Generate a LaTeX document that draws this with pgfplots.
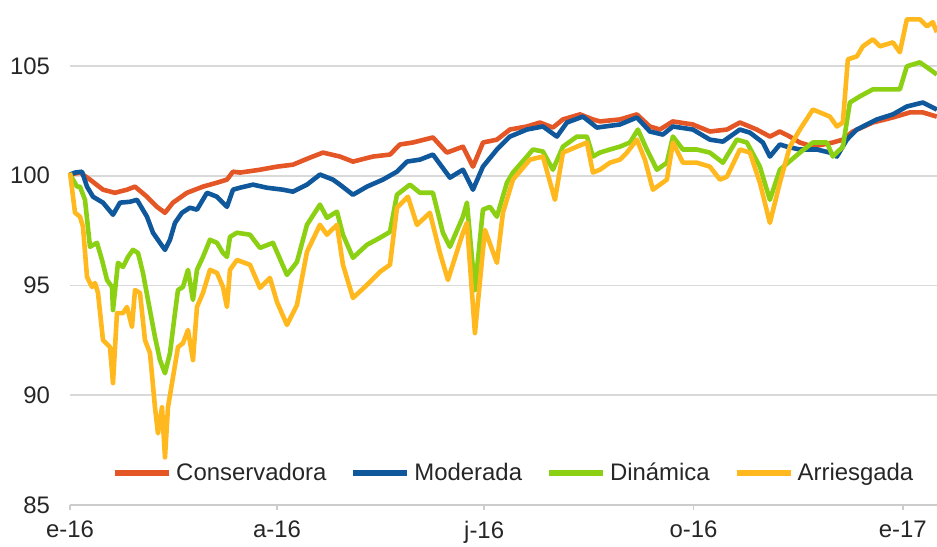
\documentclass[border=0pt]{standalone}
\usepackage{fontspec}
\setmainfont{Liberation Sans}
\usepackage{pgfplots}
\pgfplotsset{compat=1.18}
\definecolor{conserv}{RGB}{228,86,38}
\definecolor{moder}{RGB}{16,88,156}
\definecolor{dinam}{RGB}{140,208,20}
\definecolor{arriesg}{RGB}{255,185,30}

% x = days since 1 Jan 2016
\pgfplotstableread{
d v
0 100.05
4.39 100.14
8.79 99.82
14.50 99.36
19.77 99.22
25.04 99.36
28.56 99.50
33.83 99.04
38.22 98.58
41.74 98.31
45.26 98.77
51.41 99.22
58.44 99.50
64.59 99.68
68.98 99.82
71.62 100.18
74.69 100.14
83.48 100.27
90.95 100.41
97.98 100.50
105.45 100.82
111.16 101.05
118.63 100.87
124.34 100.64
133.13 100.87
140.61 100.96
145.0 101.42
150.7 101.51
159.5 101.74
165.6 101.05
172.7 101.32
177.1 100.41
181.5 101.51
187.6 101.64
193.3 102.10
200.8 102.24
206.5 102.42
212.2 102.19
216.6 102.56
224.1 102.79
229.8 102.56
232.9 102.47
241.7 102.56
249.1 102.79
254.8 102.24
259.2 102.10
264.9 102.47
273.7 102.33
281.2 102.01
288.7 102.10
294.4 102.42
301.8 102.10
307.6 101.78
311.9 102.01
316.3 101.78
320.7 101.51
326.4 101.32
335.2 101.51
339.6 101.64
344.0 102.01
352.8 102.42
361.6 102.65
369.1 102.88
374.8 102.88
380.9 102.69
}\conservadora

\pgfplotstableread{
d v
0 100.05
2.20 100.14
5.27 100.18
7.47 99.50
10.11 99.04
14.50 98.77
18.89 98.22
21.97 98.77
26.36 98.81
29.44 98.90
33.83 98.13
36.47 97.40
39.54 96.94
41.74 96.62
43.94 97.08
46.13 97.85
49.21 98.31
52.72 98.54
55.80 98.45
60.19 99.22
64.59 99.04
68.98 98.58
71.62 99.36
74.69 99.45
80.40 99.59
86.56 99.45
93.59 99.36
97.98 99.27
104.13 99.59
109.84 100.05
115.55 99.82
118.63 99.59
124.34 99.13
130.49 99.50
137.52 99.82
143.67 100.18
148.07 100.64
153.78 100.73
159.49 100.96
166.96 99.91
172.67 100.27
177.07 99.36
181.46 100.41
187.61 101.19
193.32 101.78
200.79 102.10
207.82 102.24
213.97 101.78
218.37 102.42
225.40 102.69
231.55 102.19
241.65 102.33
249.12 102.65
254.83 102.01
260.54 101.87
264.94 102.24
273.73 102.10
281.20 101.64
286.91 101.55
294.38 102.10
298.77 101.96
304.48 101.51
307.56 100.87
311.95 101.42
315.03 101.32
320.74 101.19
328.21 101.19
333.92 101.05
337.00 100.87
341.39 101.64
345.78 102.10
354.57 102.56
361.60 102.79
367.75 103.15
374.78 103.33
380.93 103.01
}\moderada

\pgfplotstableread{
d v
0 100.05
3.08 99.50
4.39 99.50
6.59 98.90
8.79 96.76
11.86 96.94
14.06 96.16
16.26 95.25
18.45 94.93
18.89 93.88
21.09 96.03
23.29 95.84
25.48 96.30
27.68 96.62
29.88 96.48
32.07 95.57
34.27 94.34
37.35 92.65
39.54 91.60
41.74 91.00
43.94 91.92
46.13 93.74
47.45 94.79
49.65 94.93
51.85 95.71
54.04 94.34
55.80 95.71
58.44 96.30
61.51 97.08
64.59 96.94
67.22 96.48
68.98 96.30
70.30 97.21
73.37 97.40
79.09 97.31
83.48 96.71
89.19 96.94
95.34 95.48
99.74 96.07
104.13 97.76
109.84 98.68
112.92 98.08
117.31 98.36
119.95 97.31
124.34 96.26
130.49 96.85
136.20 97.17
140.61 97.44
143.67 99.13
149.38 99.59
153.78 99.22
159.49 99.22
163.88 97.40
166.96 96.76
172.67 98.13
174.43 98.77
177.94 94.79
181.46 98.45
184.53 98.58
187.61 98.13
192.00 99.68
194.64 100.14
200.79 100.87
203.43 101.19
207.82 101.10
212.21 100.27
216.61 101.32
222.76 101.78
227.15 101.78
229.79 100.87
232.86 101.05
237.26 101.19
241.65 101.32
246.05 101.51
249.56 102.10
253.51 101.19
257.91 100.27
262.30 100.59
264.94 101.78
269.33 101.19
275.48 101.19
281.20 101.05
286.91 100.59
293.06 101.64
297.45 101.51
303.16 100.41
307.56 98.90
311.95 100.27
320.74 101.05
326.45 101.51
332.60 101.51
335.24 100.87
339.63 101.32
342.71 103.33
347.10 103.61
352.81 103.93
364.67 103.93
367.75 104.98
373.46 105.16
377.86 104.84
380.93 104.61
}\dinamica

\pgfplotstableread{
d v
0 100.14
2.20 98.31
4.39 98.13
5.71 97.67
7.47 95.39
9.67 94.93
10.98 95.11
12.30 94.66
14.50 92.51
17.57 92.19
18.89 90.55
20.65 93.74
23.29 93.74
25.04 94.02
27.24 93.11
28.56 94.79
30.76 94.66
32.95 92.51
35.15 91.92
37.35 89.45
38.66 88.26
40.42 89.45
41.74 87.17
43.06 89.45
45.26 90.82
47.45 92.19
49.65 92.37
51.85 92.97
54.04 91.60
55.80 94.02
58.44 94.66
61.51 95.71
64.59 95.57
67.22 94.93
68.98 94.02
70.30 95.71
73.37 96.16
79.09 95.94
83.48 94.89
87.87 95.34
90.95 94.25
95.34 93.20
99.74 94.11
104.13 96.53
109.84 97.76
112.92 97.31
117.31 97.76
119.95 95.94
124.34 94.43
130.49 95.02
136.20 95.62
140.61 95.94
143.67 98.54
148.51 99.04
152.46 97.76
158.17 98.31
162.57 96.48
166.08 95.25
172.67 97.40
174.43 97.85
177.94 92.83
182.34 97.53
187.61 96.03
190.25 98.31
194.64 99.82
202.11 100.73
207.82 100.87
213.09 98.90
216.61 101.05
222.76 101.32
227.15 101.51
229.79 100.14
232.86 100.27
237.26 100.59
241.65 100.73
244.73 101.05
249.12 101.64
252.64 100.73
256.15 99.36
262.30 99.82
264.94 101.51
269.33 100.59
275.48 100.59
281.20 100.41
285.59 99.82
288.66 99.95
294.38 101.19
298.77 101.05
303.16 99.68
307.56 97.85
311.95 99.68
316.34 101.32
320.74 102.10
326.45 103.01
329.53 102.88
333.92 102.69
337.00 102.24
339.63 102.42
341.83 105.30
345.78 105.43
348.42 105.89
352.81 106.21
355.89 105.89
361.60 106.07
364.67 105.62
367.75 107.12
373.46 107.12
376.54 106.80
379.17 106.99
380.93 106.53
}\arriesgada

\begin{document}
\begin{tikzpicture}
\begin{axis}[
  scale only axis,
  width=433.5bp, height=252.5bp,
  xmin=0, xmax=381, ymin=85, ymax=108,
  xtick={0,91,182,274,366},
  xticklabels={e-16,a-16,j-16,o-16,e-17},
  ytick={85,90,95,100,105},
  ymajorgrids,
  grid style={black!15, line width=0.9bp},
  axis lines*=left,
  y axis line style={draw=none},
  x axis line style={black!20, line width=0.9bp},
  ytick style={draw=none},
  xtick style={black!20, line width=0.9bp},
  tick align=outside,
  major tick length=2.5bp,
  ticklabel style={font=\fontsize{12}{14}\selectfont, text=black!85},
  yticklabel style={xshift=-4bp},
  xticklabel style={yshift=-2bp},
  /pgf/number format/assume math mode=true,
  clip=false,
  legend columns=-1,
  legend style={at={(0.513,0.026)}, anchor=south, draw=none, fill=none,
    font=\fontsize{12}{14}\selectfont, text=black!85,
    /tikz/every even column/.append style={column sep=10bp}},
  legend image code/.code={\draw[#1, line width=3bp] (0bp,0bp) -- (27bp,0bp);},
  every axis plot/.append style={line width=2.3bp, line join=round},
]
\addplot[conserv] table[x=d, y=v] {\conservadora};
\addplot[moder] table[x=d, y=v] {\moderada};
\addplot[dinam] table[x=d, y=v] {\dinamica};
\addplot[arriesg] table[x=d, y=v] {\arriesgada};
\legend{Conservadora, Moderada, Dinámica, Arriesgada}
\end{axis}
\pgfresetboundingbox
\path ([xshift=-35bp,yshift=-21bp]current axis.south west) rectangle (current axis.north east);
\end{tikzpicture}
\end{document}
